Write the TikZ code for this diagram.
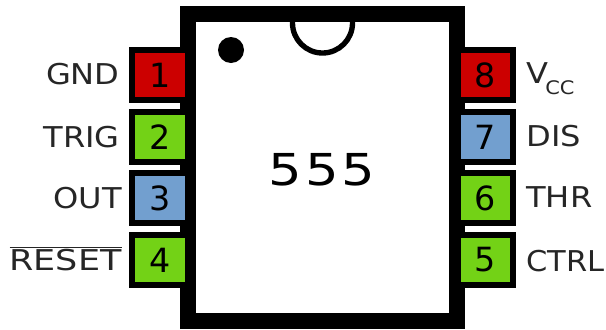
\documentclass[tikz,border=0pt]{standalone}
\usepackage{fontspec}
\setmainfont{DejaVu Sans}
\definecolor{pinred}{HTML}{CC0000}
\definecolor{pingreen}{HTML}{73D216}
\definecolor{pinblue}{HTML}{729FCF}
\tikzset{
  pinbox/.style={draw=black, line width=4.5pt, minimum height=37.5pt, inner sep=0pt, font=\fontsize{25}{25}\selectfont},
  leftpin/.style={pinbox, minimum width=42pt},
  rightpin/.style={pinbox, minimum width=41.25pt},
  pinlabel/.style={inner sep=0pt, font=\fontsize{21.5}{21.5}\selectfont, color=black!85, xscale=1.12, transform shape}
}
\begin{document}
\begin{tikzpicture}[x=0.75pt, y=-0.75pt]
    \useasboundingbox (0,0) rectangle (606,329);

    \draw[line width=12pt] (188,14) rectangle (457,321);

    \draw[line width=4pt] (292.5,18) -- (292.5,23) arc (180:0:30) -- (352.5,18);
    \fill (231,50) circle (13);

    \node[font=\fontsize{33}{33}\selectfont, xscale=1.2, transform shape, inner sep=0pt] (chip) at (322,170) {5\kern1.8pt 5\kern1.8pt 5};

    \node[leftpin, fill=pinred] (pin1) at (160,75) {1};
    \node[leftpin, fill=pingreen] (pin2) at (160,137) {2};
    \node[leftpin, fill=pinblue] (pin3) at (160,198) {3};
    \node[leftpin, fill=pingreen] (pin4) at (160,260) {4};

    \node[rightpin, fill=pinred] (pin8) at (485,75) {8};
    \node[rightpin, fill=pinblue] (pin7) at (485,137) {7};
    \node[rightpin, fill=pingreen] (pin6) at (485,198) {6};
    \node[rightpin, fill=pingreen] (pin5) at (485,260) {5};

    \node[pinlabel, anchor=east] (gnd) at (120,74) {GND};
    \node[pinlabel, anchor=east] (trig) at (120,137) {TRIG};
    \node[pinlabel, anchor=east] (out) at (122,198) {OUT};
    \node[pinlabel, anchor=east, xscale=1.09] (reset) at (122,259) {$\overline{\mbox{RESET}}$};

    \node[pinlabel, anchor=west] (vcc) at (526,79) {V\kern-2pt\raisebox{-8pt}{\fontsize{14}{14}\selectfont CC}};
    \node[pinlabel, anchor=west] (dis) at (526,136) {DIS};
    \node[pinlabel, anchor=west] (thr) at (526,197) {THR};
    \node[pinlabel, anchor=west, xscale=0.95] (ctrl) at (526,261) {CTRL};
\end{tikzpicture}
\end{document}
